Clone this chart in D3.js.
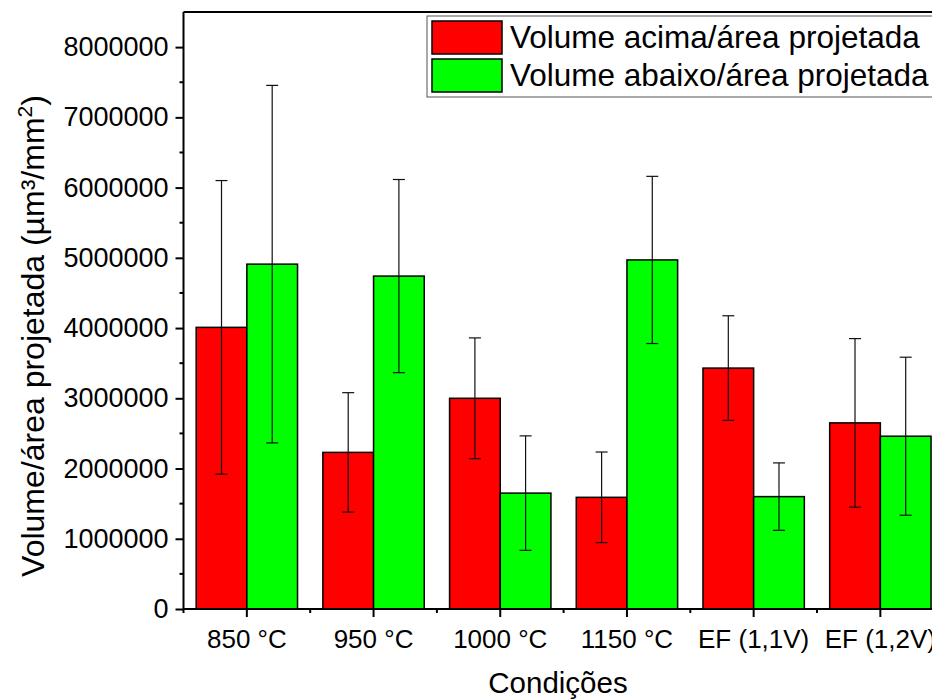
<!DOCTYPE html>
<html>
<head>
<meta charset="utf-8">
<script src="https://cdn.jsdelivr.net/npm/d3@7"></script>
<style>
  html, body { margin: 0; padding: 0; background: #fff; }
  svg { display: block; font-family: Arial, "Liberation Sans", sans-serif; }
</style>
</head>
<body>
<svg id="chart" width="932" height="699"></svg>
<script>
// Condition labels along the x axis
const categories = ["850 °C", "950 °C", "1000 °C", "1150 °C", "EF (1,1V)", "EF (1,2V)"];
const seriesNames = ["Volume acima/área projetada", "Volume abaixo/área projetada"];
const seriesColors = ["#FF0000", "#00FF00"];

// Mean volume per projected area (µm³/mm²) and standard deviation
const acimaValues = [4010000, 2230000, 3000000, 1590000, 3430000, 2650000];
const acimaErrors = [2090000, 850000, 860000, 645000, 745000, 1200000];
const abaixoValues = [4910000, 4740000, 1650000, 4970000, 1600000, 2460000];
const abaixoErrors = [2545000, 1375000, 815000, 1190000, 480000, 1125000];

const yTicks = [0, 1000000, 2000000, 3000000, 4000000, 5000000, 6000000, 7000000, 8000000];
const yMinorTicks = [500000, 1500000, 2500000, 3500000, 4500000, 5500000, 6500000, 7500000];

const svg = d3.select("#chart");
const plotLeft = 183.5, plotTop = 12, plotBottom = 609;
const bandStep = 126.7;
const plotRight = plotLeft + bandStep * categories.length;

const x = d3.scaleBand().domain(categories).range([plotLeft, plotRight]).padding(0);
const y = d3.scaleLinear().domain([0, 8500000]).range([plotBottom, plotTop]);
const bw = x.bandwidth();
const xs = d3.scaleBand().domain(seriesNames).range([-0.4 * bw, 0.4 * bw]).padding(0);

const rows = categories.map((c, i) => ({
  cat: c,
  items: [
    { s: seriesNames[0], v: acimaValues[i], e: acimaErrors[i], color: seriesColors[0] },
    { s: seriesNames[1], v: abaixoValues[i], e: abaixoErrors[i], color: seriesColors[1] }
  ]
}));

const groups = svg.append("g").selectAll("g").data(rows).join("g")
  .attr("transform", d => `translate(${x(d.cat) + bw / 2},0)`);

// Bars
groups.selectAll("rect").data(d => d.items).join("rect")
  .attr("x", d => xs(d.s))
  .attr("y", d => y(d.v))
  .attr("width", xs.bandwidth())
  .attr("height", d => y(0) - y(d.v))
  .attr("fill", d => d.color)
  .attr("stroke", "#000")
  .attr("stroke-width", 1.5);

// Error bars
const eb = groups.selectAll("g.err").data(d => d.items).join("g").attr("class", "err")
  .attr("transform", d => `translate(${xs(d.s) + xs.bandwidth() / 2},0)`)
  .attr("stroke", "#111").attr("stroke-width", 1.2);
eb.append("line").attr("x1", 0).attr("x2", 0)
  .attr("y1", d => y(d.v + d.e)).attr("y2", d => y(d.v - d.e));
eb.append("line").attr("x1", -6).attr("x2", 6)
  .attr("y1", d => y(d.v + d.e)).attr("y2", d => y(d.v + d.e));
eb.append("line").attr("x1", -6).attr("x2", 6)
  .attr("y1", d => y(d.v - d.e)).attr("y2", d => y(d.v - d.e));

// Top frame line
svg.append("line").attr("x1", plotLeft).attr("x2", plotRight)
  .attr("y1", plotTop).attr("y2", plotTop)
  .attr("stroke", "#000").attr("stroke-width", 2);

// Y axis
const yAxis = svg.append("g").attr("transform", `translate(${plotLeft},0)`)
  .call(d3.axisLeft(y).tickValues(yTicks).tickFormat(d3.format("d")).tickSize(8).tickPadding(7));
yAxis.append("g").selectAll("line").data(yMinorTicks).join("line")
  .attr("x1", -4).attr("x2", 0).attr("y1", d => y(d)).attr("y2", d => y(d))
  .attr("stroke", "#000").attr("stroke-width", 2);

// X axis
const xAxis = svg.append("g").attr("transform", `translate(0,${plotBottom})`)
  .call(d3.axisBottom(x).tickSize(8).tickPadding(13));
xAxis.append("g").selectAll("line").data(d3.range(categories.length + 1)).join("line")
  .attr("x1", i => plotLeft + i * bandStep).attr("x2", i => plotLeft + i * bandStep)
  .attr("y1", 0).attr("y2", 4)
  .attr("stroke", "#000").attr("stroke-width", 2);

[yAxis, xAxis].forEach(a => {
  a.select(".domain").attr("stroke", "#000").attr("stroke-width", 2);
  a.selectAll(".tick line").attr("stroke", "#000").attr("stroke-width", 2);
  a.selectAll(".tick text").attr("fill", "#000")
    .style("font-family", "Arial, 'Liberation Sans', sans-serif");
});
yAxis.selectAll(".tick text").style("font-size", "27px");
xAxis.selectAll(".tick text").style("font-size", "26px");
yAxis.select(".domain").attr("d", `M0,${plotBottom}V${plotTop}`);
xAxis.select(".domain").attr("d", `M${plotLeft},0H${plotRight}`);

// Axis titles
svg.append("text").attr("x", 558).attr("y", 693)
  .attr("text-anchor", "middle").style("font-size", "29.5px")
  .text("Condições");

const yTitle = svg.append("text")
  .attr("transform", `translate(44,336) rotate(-90)`)
  .attr("text-anchor", "middle").style("font-size", "32px");
yTitle.append("tspan").text("Volume/área projetada (µm³/mm");
yTitle.append("tspan").attr("dy", -12).style("font-size", "21px").text("2");
yTitle.append("tspan").attr("dy", 12).text(")");

// Legend
const lg = svg.append("g");
lg.append("rect").attr("x", 427).attr("y", 16).attr("width", 530).attr("height", 81)
  .attr("fill", "#fff").attr("stroke", "#555").attr("stroke-width", 1);
seriesNames.forEach((s, i) => {
  const yy = 21 + i * 38;
  lg.append("rect").attr("x", 432).attr("y", yy).attr("width", 70).attr("height", 33)
    .attr("fill", seriesColors[i]).attr("stroke", "#000").attr("stroke-width", 1.5);
  lg.append("text").attr("x", 510).attr("y", yy + 27)
    .style("font-size", "31.5px").text(s);
});
</script>
</body>
</html>
